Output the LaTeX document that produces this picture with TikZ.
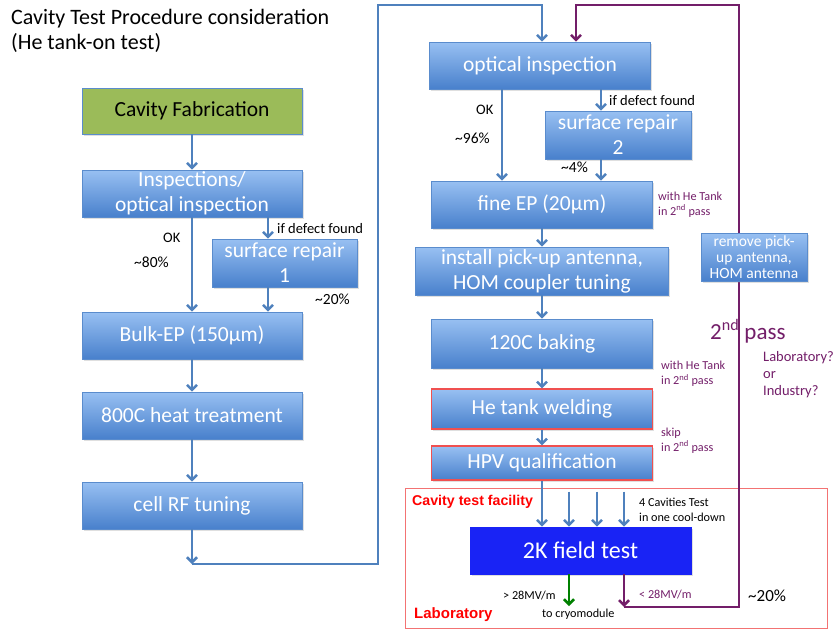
\documentclass[tikz,border=0pt]{standalone}
\usepackage{fontspec}
\setmainfont{Carlito}
\newfontfamily\arialbold{Liberation Sans}
\usetikzlibrary{arrows.meta, positioning, shadows}

\definecolor{boxtop}{RGB}{152,192,242}
\definecolor{boxbot}{RGB}{72,128,204}
\definecolor{boxedge}{RGB}{90,140,205}
\definecolor{lineblue}{RGB}{79,129,189}
\definecolor{linepurple}{RGB}{115,30,105}
\definecolor{redline}{RGB}{240,80,80}
\definecolor{fabgreen}{RGB}{155,187,89}
\definecolor{testblue}{RGB}{25,35,245}

\begin{document}
\begin{tikzpicture}[x=1pt, y=-1pt,
    stepbox/.style={draw=boxedge, line width=0.6pt, top color=boxtop, bottom color=boxbot, text=white,
      font=\fontsize{21.5}{25}\selectfont, align=center, inner sep=1pt, minimum width=220pt, minimum height=47pt,
      drop shadow={opacity=0.25, shadow xshift=1.5pt, shadow yshift=-1.5pt}},
    redbox/.style={stepbox, draw=redline, line width=1.2pt},
    flow/.style={draw=lineblue, line width=2.5pt, -{Straight Barb[length=5pt, width=10pt]}},
    loop/.style={flow, draw=linepurple},
    note/.style={anchor=west, font=\fontsize{14.5}{16}\selectfont, inner sep=0pt, align=left},
    pnote/.style={note, text=linepurple, font=\fontsize{12.2}{15}\selectfont},
    facility/.style={anchor=west, inner sep=0pt, text=red, font=\arialbold\bfseries\fontsize{14.2}{16}\selectfont}
  ]
  \useasboundingbox (0,0) rectangle (835,629);

  % Title
  \node[anchor=west, align=left, inner sep=0pt, font=\fontsize{22}{25}\selectfont] (title) at (11,30.5)
    {Cavity Test Procedure consideration\\(He tank-on test)};

  % Test facility frame
  \draw[redline!80, line width=0.8pt] (405,488) rectangle (827,628);

  % Left column
  \node[stepbox, fill=fabgreen, top color=fabgreen, bottom color=fabgreen, draw=boxedge, text=black, minimum height=46pt] (fab) at (192,111) {Cavity Fabrication};
  \node[stepbox] (insp) at (192,193.5) {Inspections/\\optical inspection};
  \node[stepbox, minimum width=145pt, minimum height=48pt] (rep1) at (284.5,263) {surface repair\\1};
  \node[stepbox] (bulk) at (192,335.5) {Bulk-EP (150µm)};
  \node[stepbox] (heat) at (192,415.5) {800C heat treatment};
  \node[stepbox] (tune) at (192,505.5) {cell RF tuning};

  % Right column
  \node[stepbox, minimum width=221pt] (optinsp) at (540,65.5) {optical inspection};
  \node[stepbox, minimum width=146pt, minimum height=48pt] (rep2) at (618,135) {surface repair\\2};
  \node[stepbox, minimum width=221pt] (fineep) at (542,204.5) {fine EP (20µm)};
  \node[stepbox, minimum width=253pt, minimum height=48pt] (pickup) at (542,271) {install pick-up antenna,\\HOM coupler tuning};
  \node[stepbox, minimum width=221pt, minimum height=49pt] (baking) at (542,343.5) {120C baking};
  \node[redbox, minimum width=221pt, minimum height=40pt] (hetank) at (542,409) {He tank welding};
  \node[redbox, minimum width=221pt, minimum height=34pt] (hpv) at (542,463) {HPV qualification};
  \node[stepbox, draw=testblue, top color=testblue, bottom color=testblue, minimum width=221pt, font=\fontsize{24}{28}\selectfont] (test2k) at (580.5,550.5) {2K field test};

  % Connectors, left column
  \draw[flow] (fab) -- (insp);
  \draw[flow] (insp) -- (bulk);
  \draw[flow] ([xshift=-16.5pt]rep1.north |- insp.south) -- ([xshift=-16.5pt]rep1.north);
  \draw[flow] ([xshift=-16.5pt]rep1.south) -- ([xshift=-16.5pt]rep1.south |- bulk.north);
  \draw[flow] (bulk) -- (heat);
  \draw[flow] (heat) -- (tune);

  % Transfer to the right column
  \coordinate (turnA) at (192,564);
  \coordinate (turnB) at (378,5);
  \draw[flow] (tune) -- (turnA);
  \draw[flow] (turnA) -| (turnB) -| ([xshift=2pt]optinsp.north);

  % Connectors, right column
  \draw[flow] ([xshift=-38pt]optinsp.south) -- ([xshift=-38pt]optinsp.south |- fineep.north);
  \draw[flow] ([xshift=-17pt]rep2.north |- optinsp.south) -- ([xshift=-17pt]rep2.north);
  \draw[flow] ([xshift=-17pt]rep2.south) -- ([xshift=-17pt]rep2.south |- fineep.north);
  \draw[flow] (fineep) -- (pickup);
  \draw[flow] (pickup) -- (baking);
  \draw[flow] (baking) -- (hetank);
  \draw[flow] (hetank) -- (hpv);
  \draw[flow] (hpv) -- (hpv.south |- test2k.north);
  \foreach \dx in {-11.5,16.5,43.5}
    \draw[flow] ([xshift=\dx pt, yshift=35pt]test2k.north) -- ([xshift=\dx pt]test2k.north);

  % Results of the 2K test
  \coordinate (cryo) at (569,606);
  \coordinate (failA) at (624,607);
  \coordinate (failB) at (739,5);
  \draw[flow, draw=green!50!black] ([xshift=-11.5pt]test2k.south) -- (cryo);
  \draw[loop] ([xshift=43.5pt]test2k.south) -- (failA);
  \draw[loop] (failA) -| (failB) -| ([xshift=36pt]optinsp.north);

  \node[stepbox, minimum width=106pt, minimum height=48pt, font=\fontsize{15.5}{16}\selectfont] (remove) at (754,257) {remove pick-\\up antenna,\\HOM antenna};

  % Labels, left
  \node[note] (okA) at (163,238) {OK};
  \node[note, font=\fontsize{15.5}{18}\selectfont] (pctA) at (134,262) {\textasciitilde80\%};
  \node[note] (defA) at (277,229) {if defect found};
  \node[note, font=\fontsize{15.5}{18}\selectfont] (pctB) at (315,299) {\textasciitilde20\%};

  % Labels, right
  \node[note] (okB) at (476,110) {OK};
  \node[note, font=\fontsize{15.5}{18}\selectfont] (pctC) at (455,138) {\textasciitilde96\%};
  \node[note] (defB) at (609,101) {if defect found};
  \node[note, font=\fontsize{15.5}{18}\selectfont] (pctD) at (561,167) {\textasciitilde4\%};
  \node[pnote] (tankA) at (658,204.5) {with He Tank\\in 2\textsuperscript{nd} pass};
  \node[pnote] (tankB) at (661,374) {with He Tank\\in 2\textsuperscript{nd} pass};
  \node[pnote] (skip) at (661,440.5) {skip\\in 2\textsuperscript{nd} pass};
  \node[note, text=linepurple, font=\fontsize{23}{26}\selectfont] (second) at (710,331) {2\textsuperscript{nd} pass};
  \node[note, text=linepurple, font=\fontsize{14.5}{17}\selectfont] (where) at (763,375) {Laboratory?\\or\\Industry?};

  % Labels, test facility
  \node[facility] (facname) at (412,502) {Cavity test facility};
  \node[facility, font=\arialbold\bfseries\fontsize{15}{17}\selectfont] (labname) at (414,615) {Laboratory};
  \node[note, font=\fontsize{12.2}{15}\selectfont] (four) at (639,509.5) {4 Cavities Test\\in one cool-down};
  \node[note, font=\fontsize{12.2}{14}\selectfont] (good) at (503,596) {> 28MV/m};
  \node[note, font=\fontsize{12.2}{14}\selectfont] (tocryo) at (542,614) {to cryomodule};
  \node[note, text=linepurple, font=\fontsize{12.2}{14}\selectfont] (bad) at (639,595) {< 28MV/m};
  \node[note, font=\fontsize{17}{19}\selectfont] (pctE) at (748,596) {\textasciitilde20\%};
\end{tikzpicture}
\end{document}
